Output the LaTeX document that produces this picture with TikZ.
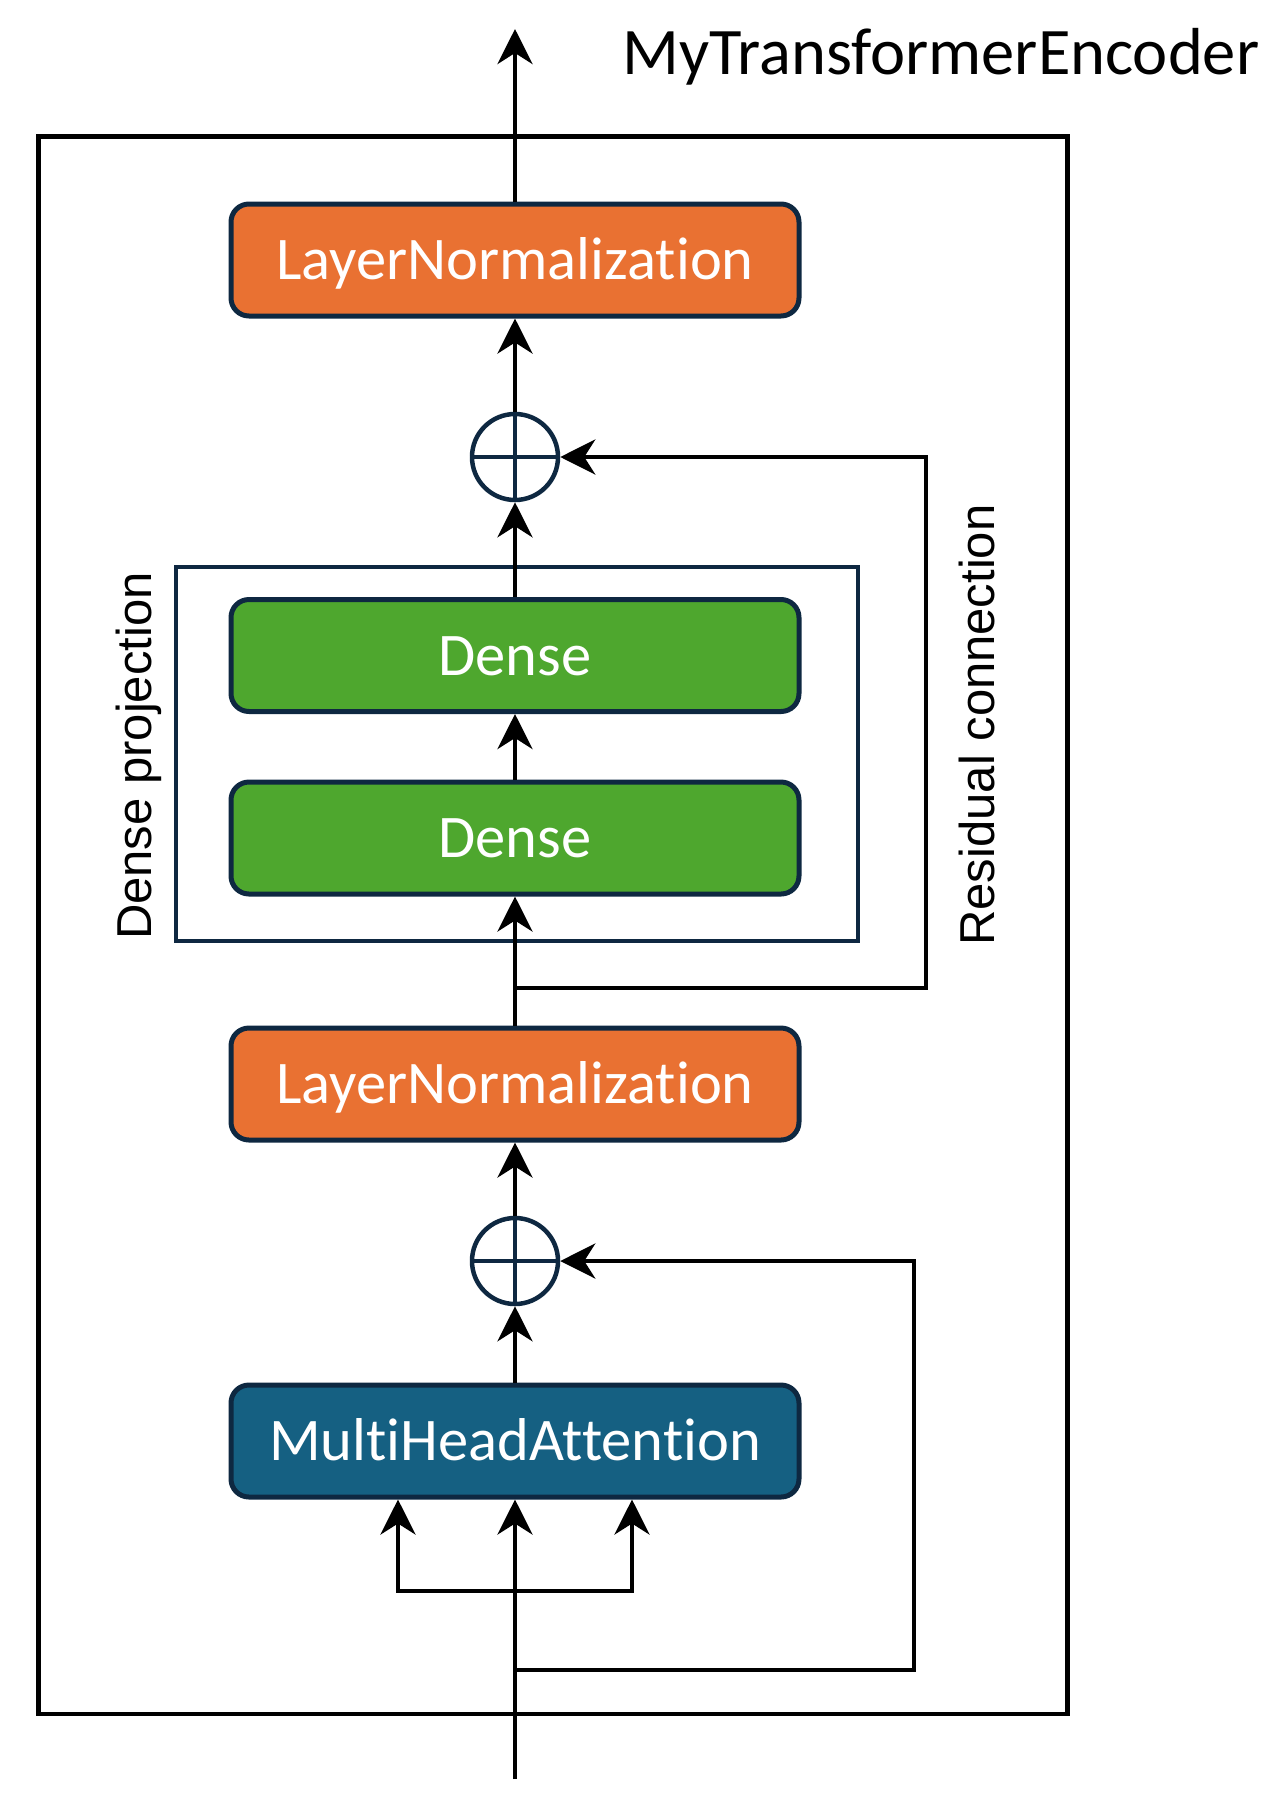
\documentclass[tikz,border=0pt]{standalone}
\usepackage{fontspec}
\setmainfont{Carlito}[Ligatures={NoCommon}]
\newfontfamily\lblfont{Liberation Sans}
\usetikzlibrary{arrows.meta}
\definecolor{lnorange}{HTML}{E97132}
\definecolor{dgreen}{HTML}{4EA72E}
\definecolor{mhablue}{HTML}{156082}
\definecolor{navy}{HTML}{0E2841}
\begin{document}
\begin{tikzpicture}[x=1pt,y=-1pt,
  layerbox/.style={draw=navy, line width=5pt, rounded corners=18pt,
    minimum width=568pt, minimum height=112pt, inner sep=0pt, text=white,
    font=\fontsize{60.5}{70}\selectfont, text height=39pt, text depth=0pt},
  lnbox/.style={layerbox, fill=lnorange},
  densebox/.style={layerbox, fill=dgreen},
  mhabox/.style={layerbox, fill=mhablue},
  addop/.style={circle, draw=navy, line width=4.5pt, minimum size=86pt, inner sep=0pt},
  conn/.style={line width=4.6pt, draw=black},
  arr/.style={conn, -{Stealth[length=35pt, width=35pt, inset=11pt]}},
  sidelabel/.style={font=\lblfont\fontsize{49}{58}\selectfont, rotate=90, anchor=base, inner sep=0pt},
  framebox/.style={draw=black, line width=4.8pt, inner sep=0pt},
  groupbox/.style={draw=navy, line width=4.8pt, inner sep=0pt},
]
\useasboundingbox (0,0) rectangle (1282,1797);

% frames
\node[framebox, minimum width=1029pt, minimum height=1577.5pt] (enc) at (553,925.25) {};
\node[groupbox, minimum width=682pt, minimum height=374pt] (dproj) at (517,754) {};

% title and labels
\node[font=\fontsize{66.5}{76}\selectfont, anchor=base west, inner sep=0pt] (title) at (622,74) {MyTransformerEncoder};
\node[sidelabel] (dlabel) at (151,756) {Dense projection};
\node[sidelabel] (rlabel) at (994,725) {Residual connection};

% layers
\node[lnbox] (ln2) at (515,260) {LayerNormalization};
\node[addop] (add2) at (515,457) {};
\node[densebox] (d2) at (515,655.5) {Dense};
\node[densebox] (d1) at (515,838) {Dense};
\node[lnbox] (ln1) at (515,1084) {LayerNormalization};
\node[addop] (add1) at (515,1261) {};
\node[mhabox] (mha) at (515,1441) {MultiHeadAttention};

% plus signs
\draw[navy, line width=3.5pt] (add2.north) -- (add2.south) (add2.west) -- (add2.east);
\draw[navy, line width=3.5pt] (add1.north) -- (add1.south) (add1.west) -- (add1.east);

% free ends
\coordinate (out) at (515,29);
\coordinate (in) at (515,1779);
\coordinate (res2) at (515,988);
\coordinate (res1) at (515,1670);
\coordinate (br) at (515,1591);

% connectors
\draw[arr] (ln2.north) -- (out);
\draw[arr] (add2.north) -- (ln2.south);
\draw[arr] (d2.north) -- (add2.south);
\draw[arr] (d1.north) -- (d2.south);
\draw[arr] (ln1.north) -- (d1.south);
\draw[arr] (res2) -- (926,988) |- (add2.east);
\draw[arr] (add1.north) -- (ln1.south);
\draw[arr] (mha.north) -- (add1.south);
\draw[arr] (res1) -- (914,1670) |- (add1.east);
\draw[arr] (in) -- (mha.south);
\draw[arr] (br) -| ([xshift=-117pt]mha.south);
\draw[arr] (br) -| ([xshift=117pt]mha.south);
\end{tikzpicture}
\end{document}
